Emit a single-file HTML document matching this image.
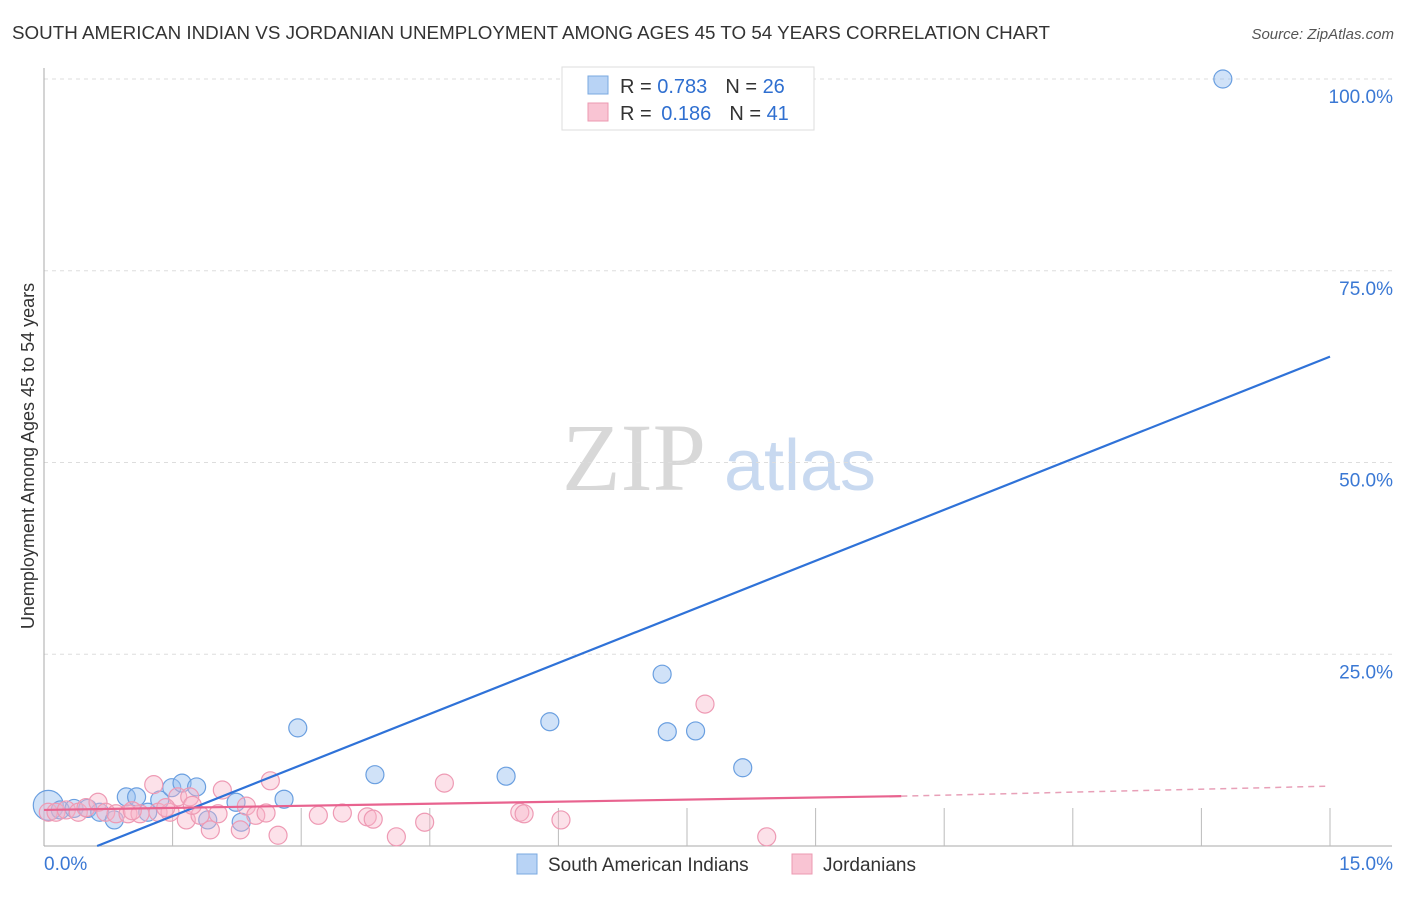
<!DOCTYPE html>
<html><head><meta charset="utf-8"><style>
body{margin:0;background:#fff;font-family:"Liberation Sans",sans-serif}
</style></head><body>
<svg id="c" width="1406" height="892" xmlns="http://www.w3.org/2000/svg">
<text x="12" y="39" font-size="18" fill="#333" textLength="1038" lengthAdjust="spacingAndGlyphs">SOUTH AMERICAN INDIAN VS JORDANIAN UNEMPLOYMENT AMONG AGES 45 TO 54 YEARS CORRELATION CHART</text>
<text x="1394" y="39" font-size="15" fill="#555" font-style="italic" text-anchor="end">Source: ZipAtlas.com</text>
<text x="634" y="490" font-size="96" fill="#d8d8d8" font-family="Liberation Serif" text-anchor="middle">ZIP</text>
<text x="800" y="490" font-size="72" fill="#c8d9f0" text-anchor="middle">atlas</text>
<text transform="translate(34,456) rotate(-90)" font-size="18" fill="#333" text-anchor="middle">Unemployment Among Ages 45 to 54 years</text>
<g id="grid"></g><g id="pts"></g><g id="lines"></g>
<rect x="562" y="67" width="252" height="63" fill="#fff" stroke="#ddd"/>
<rect x="588" y="76" width="20" height="18" fill="#b8d3f5" stroke="#7aa8e0"/>
<rect x="588" y="103" width="20" height="18" fill="#f9c4d3" stroke="#ec9ab2"/>
<text x="620" y="93" font-size="20" fill="#333">R = <tspan fill="#2f6fd0">0.783</tspan><tspan dx="18">N = </tspan><tspan fill="#2f6fd0">26</tspan></text>
<text x="620" y="120" font-size="20" fill="#333">R = <tspan dx="4" fill="#2f6fd0">0.186</tspan><tspan dx="18">N = </tspan><tspan fill="#2f6fd0">41</tspan></text>
<rect x="517" y="854" width="20" height="20" fill="#b8d3f5" stroke="#7aa8e0"/>
<text x="548" y="871" font-size="19" fill="#333">South American Indians</text>
<rect x="792" y="854" width="20" height="20" fill="#f9c4d3" stroke="#ec9ab2"/>
<text x="823" y="871" font-size="19" fill="#333">Jordanians</text>
</svg>
<script>
const yTicks=[25,50,75,100];
const yTickLabels=["25.0%","50.0%","75.0%","100.0%"];
const xTickCount=10;
const blueX=[0.05,0.19,0.35,0.51,0.65,0.82,0.96,1.08,1.21,1.35,1.49,1.61,1.78,1.91,2.24,2.30,2.80,2.96,3.86,5.39,5.90,7.21,7.27,7.60,8.15,13.75];
const blueY=[5.3,4.7,4.9,4.9,4.4,3.4,6.4,6.4,4.4,6.0,7.6,8.2,7.7,3.4,5.7,3.1,6.1,15.4,9.3,9.1,16.2,22.4,14.9,15.0,10.2,100];
const pinkX=[0.05,0.14,0.26,0.40,0.49,0.63,0.72,0.84,0.98,1.12,1.28,1.33,1.47,1.56,1.66,1.70,1.82,1.94,2.03,2.08,2.29,2.36,2.47,2.59,2.64,2.73,3.20,3.48,3.77,3.84,4.11,4.44,4.67,5.55,5.60,6.03,7.71,8.43,1.03,1.42,1.73];
const pinkY=[4.4,4.4,4.7,4.4,5.0,5.7,4.4,4.2,4.2,4.2,8.0,4.4,4.4,6.4,3.4,6.4,4.0,2.1,4.2,7.3,2.1,5.2,4.0,4.3,8.5,1.4,4.0,4.3,3.8,3.5,1.2,3.1,8.2,4.4,4.2,3.4,18.5,1.2,4.6,5.0,5.3];
const blueLine=[[0.62,0],[15,63.8]];
const pinkLine=[[0,4.7],[10,6.5]];
const pinkDash=[[10,6.5],[15,7.8]];
const NS="http://www.w3.org/2000/svg";
const X=v=>44+v/15*1286, Y=v=>846-v/100*767;
function mk(t,a,p){const e=document.createElementNS(NS,t);for(const k in a)e.setAttribute(k,a[k]);p.appendChild(e);return e;}
const g=document.getElementById('grid');
yTicks.forEach((t,i)=>{
 let l=mk('line',{x1:44,x2:1392,y1:Y(t),y2:Y(t),stroke:'#ddd','stroke-dasharray':'4,4'},g);
 
 
 let tx=mk('text',{x:1393,y:Y(t)+24,'font-size':19,fill:'#3a78d4','text-anchor':'end'},g);tx.textContent=yTickLabels[i];
 
 
});
let ax=mk('line',{x1:44,x2:44,y1:68,y2:846,stroke:'#aaa'},g);


let bx=mk('line',{x1:44,x2:1392,y1:846,y2:846,stroke:'#aaa'},g);


for(let i=1;i<=xTickCount;i++){let t=mk('line',{x1:X(i*1.5),x2:X(i*1.5),y1:808,y2:846,stroke:'#bbb'},g);
 
 }
[["0.0%",44,'start'],["15.0%",1393,'end']].forEach(([s,x,a])=>{let t=mk('text',{x:x,y:870,'font-size':19,fill:'#3a78d4','text-anchor':a},g);t.textContent=s;
 
 });
const p=document.getElementById('pts');
blueX.forEach((v,i)=>{let c=mk('circle',{cx:X(v),cy:Y(blueY[i]),r:i==0?15:9,fill:'rgba(150,190,240,0.45)',stroke:'#6a9fe0','stroke-width':1.2},p);
 
 });
pinkX.forEach((v,i)=>{let c=mk('circle',{cx:X(v),cy:Y(pinkY[i]),r:9,fill:'rgba(248,180,200,0.4)',stroke:'#ee9ab4','stroke-width':1.2},p);
 
 });
const L=document.getElementById('lines');
let b=mk('line',{x1:X(blueLine[0][0]),y1:Y(blueLine[0][1]),x2:X(blueLine[1][0]),y2:Y(blueLine[1][1]),stroke:'#2f72d8','stroke-width':2.2},L);


let q=mk('line',{x1:X(pinkLine[0][0]),y1:Y(pinkLine[0][1]),x2:X(pinkLine[1][0]),y2:Y(pinkLine[1][1]),stroke:'#e8638f','stroke-width':2.2},L);


let d=mk('line',{x1:X(pinkDash[0][0]),y1:Y(pinkDash[0][1]),x2:X(pinkDash[1][0]),y2:Y(pinkDash[1][1]),stroke:'#e8a0b8','stroke-width':1.5,'stroke-dasharray':'6,5'},L);


</script>
</body></html>
